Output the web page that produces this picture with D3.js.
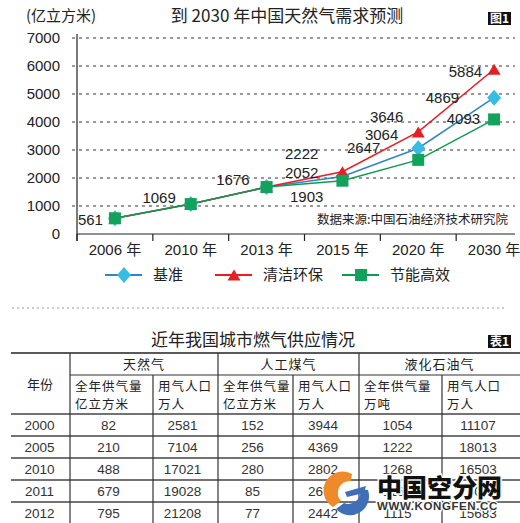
<!DOCTYPE html>
<html>
<head>
<meta charset="utf-8">
<script src="https://cdn.jsdelivr.net/npm/d3@7"></script>
<style>
  html, body { margin: 0; padding: 0; background: #fff; }
  svg { display: block; }
  text { font-family: "Liberation Sans", Arial, "Noto Sans CJK SC", sans-serif; }
</style>
</head>
<body>
<svg id="chart" width="520" height="523"></svg>
<script>
// ---------------- data ----------------
const years = ["2006 年", "2010 年", "2013 年", "2015 年", "2020 年", "2030 年"];
const baseline = [561, 1069, 1676, 2052, 3064, 4869];   // 基准
const clean = [561, 1069, 1676, 2222, 3646, 5884];      // 清洁环保
const efficient = [561, 1069, 1676, 1903, 2647, 4093];  // 节能高效
const seriesNames = ["基准", "清洁环保", "节能高效"];
const yTicks = [0, 1000, 2000, 3000, 4000, 5000, 6000, 7000];

const tableYears = ["2000", "2005", "2010", "2011", "2012"];
const ngSupply = [82, 210, 488, 679, 795];
const ngPop = [2581, 7104, 17021, 19028, 21208];
const mgSupply = [152, 256, 280, 85, 77];
const mgPop = [3944, 4369, 2802, 2676, 2442];
const lpgSupply = [1054, 1222, 1268, 1166, 1115];
const lpgPop = [11107, 18013, 16503, 16094, 15683];
const groupHeaders = ["天然气", "人工煤气", "液化石油气"];
const subHeaders = [["全年供气量", "亿立方米"], ["用气人口", "万人"], ["全年供气量", "亿立方米"], ["用气人口", "万人"], ["全年供气量", "万吨"], ["用气人口", "万人"]];

// ---------------- chart ----------------
const svg = d3.select("#chart");
const CJK = '"Noto Sans CJK SC", sans-serif';

const x = d3.scaleBand().domain(years).range([77, 532]).padding(0);
const y = d3.scaleLinear().domain([0, 7000]).range([234, 38]);
const cx = d => x(d) + x.bandwidth() / 2;

// header texts
svg.append("text").attr("x", 26).attr("y", 21).attr("font-size", 15).attr("fill", "#222")
  .style("font-family", CJK).text("(亿立方米)");
svg.append("text").attr("x", 287).attr("y", 22).attr("text-anchor", "middle").attr("font-size", 17)
  .attr("fill", "#222").style("font-family", CJK).text("到 2030 年中国天然气需求预测");
function badge(xp, yp, label) {
  const g = svg.append("g").attr("transform", `translate(${xp},${yp})`);
  g.append("rect").attr("width", 23).attr("height", 13).attr("fill", "#111");
  g.append("text").attr("x", 11.5).attr("y", 11).attr("text-anchor", "middle").attr("font-size", 12)
    .attr("font-weight", "bold").attr("fill", "#fff").style("font-family", CJK).text(label);
}
badge(488, 12, "图1");

// gridlines
svg.append("g").selectAll("line").data(yTicks.filter(t => t > 0)).join("line")
  .attr("x1", 72).attr("x2", 515).attr("y1", d => y(d)).attr("y2", d => y(d))
  .attr("stroke", "#333").attr("stroke-width", 1).attr("stroke-dasharray", "3,4");

// y axis
const yAxis = svg.append("g").attr("transform", "translate(77,0)")
  .call(d3.axisLeft(y).tickValues(yTicks).tickSize(0).tickPadding(17).tickFormat(d3.format("d")));
yAxis.select(".domain").remove();
yAxis.selectAll("text").attr("font-size", 15).attr("fill", "#222")
  .style("font-family", '"Liberation Sans", Arial, sans-serif');
svg.append("line").attr("x1", 77).attr("x2", 77).attr("y1", 34).attr("y2", 241)
  .attr("stroke", "#222").attr("stroke-width", 1.2);

// x axis
svg.append("line").attr("x1", 77).attr("x2", 515).attr("y1", y(0)).attr("y2", y(0))
  .attr("stroke", "#222").attr("stroke-width", 1.2);
svg.append("g").selectAll("line").data(years).join("line")
  .attr("x1", d => x(d)).attr("x2", d => x(d)).attr("y1", y(0)).attr("y2", y(0) + 7)
  .attr("stroke", "#222").attr("stroke-width", 1.2);
svg.append("g").selectAll("text").data(years).join("text")
  .attr("x", d => cx(d)).attr("y", 255).attr("text-anchor", "middle").attr("font-size", 15)
  .attr("fill", "#222").text(d => d);

// source
svg.append("text").attr("x", 508).attr("y", 224).attr("text-anchor", "end").attr("font-size", 12.5)
  .attr("fill", "#222").style("font-family", CJK).text("数据来源:中国石油经济技术研究院");

// markers
const markerPath = {
  diamond: "M0,-8L7,0L0,8L-7,0Z",
  triangle: "M0,-5.5L6.5,5.5L-6.5,5.5Z",
  square: "M-6,-6H6V6H-6Z"
};
const series = [
  { name: seriesNames[0], values: baseline, line: "#2e86c8", fill: "#38bde2", shape: "diamond" },
  { name: seriesNames[1], values: clean, line: "#e61e26", fill: "#e61e26", shape: "triangle" },
  { name: seriesNames[2], values: efficient, line: "#13994f", fill: "#12a25c", shape: "square" }
];
const lineGen = d3.line().x((d, i) => cx(years[i])).y(d => y(d));
series.forEach(s => {
  svg.append("path").attr("d", lineGen(s.values)).attr("fill", "none")
    .attr("stroke", s.line).attr("stroke-width", 1.5);
});
series.forEach(s => {
  svg.append("g").selectAll("path").data(s.values).join("path")
    .attr("transform", (d, i) => `translate(${cx(years[i])},${y(d)})`)
    .attr("d", markerPath[s.shape]).attr("fill", s.fill);
});

// value labels (offsets relative to each point; null = not shown)
const labelOffsets = [
  [[-12, 1], [-15, -7], [-17, -8], [-24, -4.5], [-20, -14], [-35, 0]],
  [null, null, null, [-24, -18], [-15, -15], [-12, 2]],
  [null, null, null, [-19, 16], [-38, -12], [-14, -1]]
];
series.forEach((s, si) => {
  s.values.forEach((v, i) => {
    const off = labelOffsets[si][i];
    if (!off) return;
    svg.append("text").attr("x", cx(years[i]) + off[0]).attr("y", y(v) + off[1] + 5.5)
      .attr("text-anchor", "end").attr("font-size", 15).attr("fill", "#222").text(v);
  });
});

// legend
const legendX = [105, 215, 342];
series.forEach((s, i) => {
  const g = svg.append("g").attr("transform", `translate(${legendX[i]},275)`);
  g.append("line").attr("x1", 0).attr("x2", 37).attr("stroke", s.line).attr("stroke-width", 2);
  g.append("path").attr("transform", "translate(19,0)").attr("d", markerPath[s.shape]).attr("fill", s.fill);
  g.append("text").attr("x", 48).attr("y", 5).attr("font-size", 15).attr("fill", "#222")
    .style("font-family", CJK).text(s.name);
});

// separator
svg.append("line").attr("x1", 12).attr("x2", 506).attr("y1", 308).attr("y2", 308)
  .attr("stroke", "#999").attr("stroke-width", 1).attr("stroke-dasharray", "2,3");

// ---------------- table ----------------
svg.append("text").attr("x", 253).attr("y", 346).attr("text-anchor", "middle").attr("font-size", 17)
  .attr("fill", "#222").style("font-family", CJK).text("近年我国城市燃气供应情况");
badge(488, 335, "表1");

const colEdges = [11, 70, 153, 218, 293, 359, 442, 520];
const rowY = d3.scaleBand().domain(tableYears).range([414, 524]);
const tbl = svg.append("g");
const lineColor = "#333";
// top border
tbl.append("line").attr("x1", 11).attr("x2", 520).attr("y1", 353).attr("y2", 353).attr("stroke", "#222").attr("stroke-width", 1.6);
// under group header
tbl.append("line").attr("x1", 70).attr("x2", 520).attr("y1", 375).attr("y2", 375).attr("stroke", lineColor).attr("stroke-width", 1.2);
// header bottom + rows
[414].concat(tableYears.map(d => rowY(d) + rowY.bandwidth())).forEach(yy => {
  tbl.append("line").attr("x1", 11).attr("x2", 520).attr("y1", yy).attr("y2", yy)
    .attr("stroke", "#444").attr("stroke-width", 1.3);
});
// verticals
[1, 3, 5].forEach(i => tbl.append("line").attr("x1", colEdges[i]).attr("x2", colEdges[i]).attr("y1", 353).attr("y2", 523).attr("stroke", lineColor).attr("stroke-width", 1.2));
[2, 4, 6].forEach(i => tbl.append("line").attr("x1", colEdges[i]).attr("x2", colEdges[i]).attr("y1", 375).attr("y2", 523).attr("stroke", lineColor).attr("stroke-width", 1.2));

// headers
tbl.append("text").attr("x", 40).attr("y", 389).attr("text-anchor", "middle").attr("font-size", 13)
  .attr("fill", "#222").style("font-family", CJK).text("年份");
groupHeaders.forEach((h, i) => {
  tbl.append("text").attr("x", (colEdges[1 + 2 * i] + colEdges[3 + 2 * i]) / 2).attr("y", 369)
    .attr("text-anchor", "middle").attr("font-size", 13).attr("letter-spacing", 1).attr("fill", "#222")
    .style("font-family", CJK).text(h);
});
subHeaders.forEach((sh, i) => {
  tbl.append("text").attr("x", colEdges[i + 1] + 5).attr("y", 391).attr("font-size", 12.5)
    .attr("letter-spacing", 1).attr("fill", "#222").style("font-family", CJK).text(sh[0]);
  tbl.append("text").attr("x", colEdges[i + 1] + 5).attr("y", 409).attr("font-size", 12.5)
    .attr("letter-spacing", 1).attr("fill", "#222").style("font-family", CJK).text(sh[1]);
});

// data cells
const cols = [tableYears, ngSupply, ngPop, mgSupply, mgPop, lpgSupply, lpgPop];
cols.forEach((col, ci) => {
  col.forEach((v, ri) => {
    tbl.append("text").attr("x", (colEdges[ci] + colEdges[ci + 1]) / 2 - (ci === 0 ? 1 : 3))
      .attr("y", rowY(tableYears[ri]) + rowY.bandwidth() / 2 + 5)
      .attr("text-anchor", "middle").attr("font-size", 13.5).attr("fill", "#333").text(v);
  });
});

// ---------------- watermark ----------------
const wm = svg.append("g");
wm.append("path").attr("d", "M352,474 A19,19 0 0 0 333,507 L341,501 A12,12 0 0 1 351,481 Z").attr("fill", "#ef8a2a");
wm.append("path").attr("d", "M336,509 A19,19 0 0 0 368,490 L360,489 A12,12 0 0 1 344,503 Z").attr("fill", "#3f6fb6");
wm.append("path").attr("d", "M345,492 L366,486 L364,493 L347,497 Z").attr("fill", "#3f6fb6");
wm.append("text").attr("x", 377).attr("y", 497).attr("font-size", 25).attr("font-weight", 900)
  .attr("fill", "#111").attr("stroke", "#fff").attr("stroke-width", 3).attr("paint-order", "stroke")
  .style("font-family", CJK).text("中国空分网");
wm.append("text").attr("x", 377).attr("y", 510).attr("font-size", 11.5).attr("font-weight", "bold")
  .attr("letter-spacing", 0.6).attr("fill", "#333").attr("stroke", "#fff").attr("stroke-width", 2.5)
  .attr("paint-order", "stroke").text("WWW.KONGFEN.CC");
</script>
</body>
</html>
